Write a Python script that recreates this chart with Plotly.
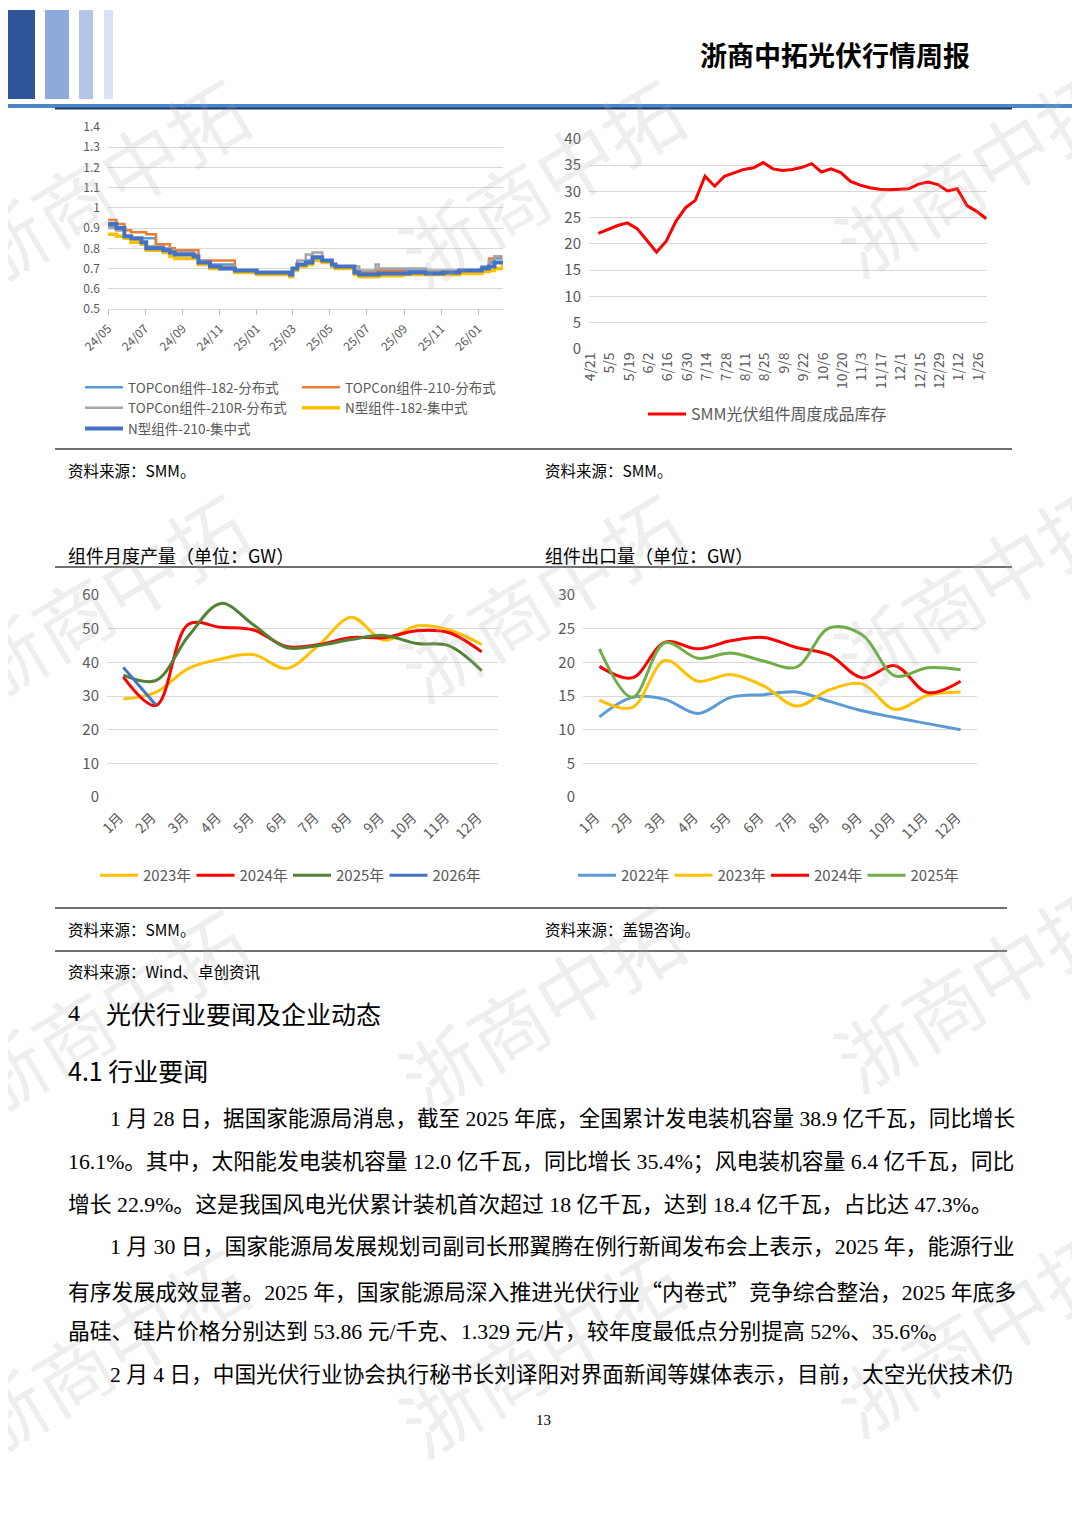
import plotly.graph_objects as go

# page is rendered with an 8px body margin: lay out in reference-pixel coordinates and compensate
OX, OY = 8, 8
FW, FH = 1072, 1519
def X(p): return (p - OX) / FW
def Y(p): return 1 - (p - OY) / FH

CJK = "Noto Sans CJK SC"
SERIF = "Liberation Serif, Noto Sans CJK SC"
GRAY = "#595959"
GRID = "#D9D9D9"

# ---------------- data ----------------
# Chart 1: module prices (yuan/W)
price_dates = ["2024-05-01","2024-05-15","2024-05-28","2024-06-08","2024-06-25","2024-07-03","2024-07-19",
               "2024-07-31","2024-08-11","2024-08-19","2024-09-19","2024-09-27","2024-10-10","2024-10-16",
               "2024-11-02","2024-11-18","2024-11-26","2024-12-26","2025-01-01","2025-02-19","2025-02-25",
               "2025-03-01","2025-03-09","2025-03-23","2025-04-03","2025-04-19","2025-05-05","2025-05-11",
               "2025-06-05","2025-06-11","2025-06-19","2025-07-16","2025-07-21","2025-08-30","2025-09-10",
               "2025-10-07","2025-11-04","2025-12-01","2025-12-29","2026-01-07","2026-01-19","2026-01-28",
               "2026-02-10"]
topcon_182_dist = [0.91,0.89,0.86,0.85,0.85,0.85,0.82,0.80,0.79,0.78,0.77,0.74,0.72,0.72,0.72,0.72,0.69,0.69,
                   0.68,0.68,0.67,0.70,0.72,0.74,0.76,0.74,0.72,0.71,0.71,0.69,0.68,0.69,0.69,0.69,0.69,0.685,
                   0.685,0.69,0.69,0.71,0.73,0.75,0.75]
topcon_210_dist = [0.94,0.92,0.89,0.88,0.88,0.87,0.82,0.82,0.80,0.79,0.79,0.74,0.74,0.74,0.74,0.74,0.69,0.69,
                   0.68,0.68,0.67,0.70,0.72,0.73,0.75,0.74,0.72,0.71,0.71,0.69,0.68,0.68,0.69,0.68,0.68,0.68,
                   0.68,0.69,0.69,0.70,0.75,0.76,0.76]
topcon_210r_dist = [0.90,0.89,0.86,0.84,0.83,0.81,0.81,0.80,0.79,0.78,0.77,0.74,0.73,0.71,0.71,0.71,0.69,0.68,
                    0.67,0.67,0.66,0.70,0.74,0.77,0.78,0.74,0.71,0.70,0.70,0.71,0.69,0.72,0.70,0.70,0.70,0.69,
                    0.69,0.69,0.69,0.70,0.74,0.76,0.76]
n_182_central = [0.87,0.86,0.85,0.83,0.82,0.79,0.79,0.78,0.76,0.75,0.75,0.72,0.72,0.70,0.70,0.70,0.68,0.68,
                 0.67,0.67,0.66,0.69,0.71,0.72,0.74,0.73,0.71,0.70,0.70,0.67,0.66,0.66,0.665,0.67,0.67,0.67,
                 0.67,0.675,0.675,0.685,0.69,0.70,0.72]
n_210_central = [0.92,0.90,0.86,0.85,0.83,0.80,0.80,0.79,0.78,0.77,0.76,0.73,0.73,0.71,0.70,0.70,0.69,0.69,
                 0.68,0.68,0.67,0.70,0.72,0.73,0.755,0.74,0.72,0.71,0.71,0.68,0.67,0.67,0.675,0.675,0.68,0.675,
                 0.68,0.69,0.69,0.70,0.71,0.73,0.74]
price_yticks = [0.5,0.6,0.7,0.8,0.9,1.0,1.1,1.2,1.3,1.4]
price_yticktext = ["0.5","0.6","0.7","0.8","0.9","1","1.1","1.2","1.3","1.4"]

# Chart 2: SMM weekly finished-module inventory
inv_weeks = ["4/21","4/28","5/5","5/12","5/19","5/26","6/2","6/9","6/16","6/23","6/30","7/7","7/14","7/21",
             "7/28","8/4","8/11","8/18","8/25","9/1","9/8","9/15","9/22","9/29","10/6","10/13","10/20",
             "10/27","11/3","11/10","11/17","11/24","12/1","12/8","12/15","12/22","12/29","1/5","1/12",
             "1/19","1/26"]
inv_values = [22.0,22.8,23.5,24.0,22.9,20.7,18.4,20.5,24.3,26.9,28.3,32.9,31.0,32.9,33.6,34.2,34.5,35.5,
              34.3,34.0,34.2,34.6,35.3,33.7,34.3,33.6,31.9,31.2,30.7,30.4,30.3,30.4,30.5,31.4,31.8,31.3,
              30.1,30.5,27.3,26.2,24.8]
inv_labels = inv_weeks[::2]

# Chart 3: monthly module output (GW)
months = ["1月","2月","3月","4月","5月","6月","7月","8月","9月","10月","11月","12月"]
out_2023 = [29.1,31.1,38.2,41.0,42.3,38.2,45.1,53.4,46.6,50.8,49.6,45.3]
out_2024 = [35.7,27.2,51.3,50.4,49.6,44.7,45.3,47.4,47.3,49.4,48.8,43.1]
out_2025 = [36.2,34.6,47.8,57.5,51.1,44.4,45.0,46.8,48.0,45.6,44.9,37.5]
out_2026 = [38.5,27.3]

# Chart 4: module exports (GW)
exp_2022 = [11.9,14.8,14.5,12.4,14.8,15.2,15.6,14.2,12.8,11.8,10.9,10.0]
exp_2023 = [14.4,13.3,20.3,17.2,18.2,16.5,13.5,15.9,16.8,13.0,15.1,15.6]
exp_2024 = [19.4,17.7,23.0,22.0,23.2,23.7,22.2,21.1,17.7,19.5,15.5,17.2]
exp_2025 = [22.0,14.8,22.9,20.6,21.4,20.2,19.3,25.1,24.1,18.0,19.2,18.9]

# ---------------- figure ----------------
fig = go.Figure()

c1 = [("TOPCon组件-182-分布式", topcon_182_dist, "#5B9BD5", 2.5, "legend"),
      ("TOPCon组件-210-分布式", topcon_210_dist, "#ED7D31", 2.5, "legend2"),
      ("TOPCon组件-210R-分布式", topcon_210r_dist, "#A5A5A5", 2.5, "legend"),
      ("N型组件-182-集中式", n_182_central, "#FFC000", 3.5, "legend2"),
      ("N型组件-210-集中式", n_210_central, "#4472C4", 4, "legend")]
for name, vals, col, w, leg in c1:
    fig.add_trace(go.Scatter(x=price_dates, y=vals, mode="lines", name=name,
                             line=dict(color=col, width=w, shape="hv"),
                             xaxis="x", yaxis="y", legend=leg))

fig.add_trace(go.Scatter(x=inv_weeks, y=inv_values, mode="lines", name="SMM光伏组件周度成品库存",
                         line=dict(color="#FF0000", width=3), xaxis="x2", yaxis="y2", legend="legend3"))

for name, vals, col in [("2023年", out_2023, "#FFC000"), ("2024年", out_2024, "#FF0000"),
                        ("2025年", out_2025, "#548235"), ("2026年", out_2026, "#4472C4")]:
    fig.add_trace(go.Scatter(x=months[:len(vals)], y=vals, mode="lines", name=name,
                             line=dict(color=col, width=3, shape="spline", smoothing=1),
                             xaxis="x3", yaxis="y3", legend="legend4"))

for name, vals, col in [("2022年", exp_2022, "#5B9BD5"), ("2023年", exp_2023, "#FFC000"),
                        ("2024年", exp_2024, "#FF0000"), ("2025年", exp_2025, "#70AD47")]:
    fig.add_trace(go.Scatter(x=months, y=vals, mode="lines", name=name,
                             line=dict(color=col, width=3, shape="spline", smoothing=1),
                             xaxis="x4", yaxis="y4", legend="legend5"))

def yax(dom, rng, dt, size, **kw):
    d = dict(domain=dom, range=rng, dtick=dt, showgrid=True, gridcolor=GRID, gridwidth=1,
             zeroline=False, showline=False, ticks="", fixedrange=True, automargin=False,
             tickfont=dict(family=CJK, size=size, color=GRAY), ticklabelstandoff=7)
    d.update(kw)
    return d

def xcat(dom, anchor):
    return dict(domain=dom, type="category", range=[-0.5, 11.5], tickangle=-45,
                showgrid=False, showline=False, ticks="", automargin=False, ticklabelstandoff=9,
                ticklabelshift=-4,
                tickfont=dict(family=CJK, size=14, color=GRAY), anchor=anchor, fixedrange=True)

fig.update_layout(
    width=FW, height=FH, margin=dict(l=0, r=0, t=0, b=0, autoexpand=False),
    paper_bgcolor="white", plot_bgcolor="rgba(0,0,0,0)", hovermode=False,
    xaxis=dict(domain=[X(108), X(503)], type="date", range=["2024-05-01", "2026-02-11"],
               tick0="2024-05-01", dtick="M2", tickformat="%y/%m", tickangle=-45,
               showgrid=False, showline=True, linecolor=GRID, ticks="outside", ticklen=5,
               tickcolor="#BFBFBF", tickfont=dict(family=CJK, size=12, color=GRAY), ticklabelstandoff=2,
               anchor="y", fixedrange=True, automargin=False),
    yaxis=yax([Y(309), Y(127)], [0.5, 1.4], 0.1, 12, tickvals=price_yticks,
              ticktext=price_yticktext, anchor="x"),
    xaxis2=dict(domain=[X(589), X(987)], type="category", range=[-0.96, 40.07],
                tickvals=inv_labels, ticktext=inv_labels, tickangle=-90, ticklabelshift=-8,
                showgrid=False, showline=False, ticks="", automargin=False,
                tickfont=dict(family=CJK, size=14, color=GRAY), anchor="y2", fixedrange=True),
    yaxis2=yax([Y(348.7), Y(139)], [0, 40], 5, 15, anchor="x2"),
    xaxis3=xcat([X(107), X(498)], "y3"),
    yaxis3=yax([Y(797), Y(595)], [0, 60], 10, 15, anchor="x3"),
    xaxis4=xcat([X(583), X(977)], "y4"),
    yaxis4=yax([Y(797), Y(595)], [0, 30], 5, 15, anchor="x4"),
)

leg_common = dict(bgcolor="rgba(0,0,0,0)", borderwidth=0, xanchor="left", yanchor="top", itemwidth=38)
fig.update_layout(
    legend=dict(x=X(80), y=Y(372), font=dict(family=CJK, size=13.5, color=GRAY), **leg_common),
    legend2=dict(x=X(297), y=Y(372), font=dict(family=CJK, size=13.5, color=GRAY), **leg_common),
    legend3=dict(x=X(643), y=Y(397), font=dict(family=CJK, size=16, color=GRAY), **leg_common),
    legend4=dict(x=X(95), y=Y(859), orientation="h", entrywidth=43.5,
                 font=dict(family=CJK, size=15, color=GRAY), **leg_common),
    legend5=dict(x=X(573), y=Y(859), orientation="h", entrywidth=43.5,
                 font=dict(family=CJK, size=15, color=GRAY), **leg_common),
)

shapes = []
# header bars
for x0, x1, col in [(3, 35, "#2E5597"), (45, 69, "#8EA9DB"), (79, 93, "#B4C6E7"), (104, 113, "#DAE3F3")]:
    shapes.append(dict(type="rect", xref="paper", yref="paper", x0=X(x0), x1=X(x1), y0=Y(99), y1=Y(10),
                       fillcolor=col, line=dict(width=0)))
shapes.append(dict(type="line", xref="paper", yref="paper", x0=X(0), x1=X(1080), y0=Y(106), y1=Y(106),
                   line=dict(color="#4A86C8", width=4)))
shapes.append(dict(type="line", xref="paper", yref="paper", x0=X(55), x1=X(1012), y0=Y(108.5), y1=Y(108.5),
                   line=dict(color="#1F3864", width=2)))
for yy, xa, xb in [(449, 55, 1012), (567, 55, 1012), (908, 55, 1007), (951, 55, 1007)]:
    shapes.append(dict(type="line", xref="paper", yref="paper", x0=X(xa), x1=X(xb), y0=Y(yy), y1=Y(yy),
                       line=dict(color="#404040", width=1.3)))
fig.update_layout(shapes=shapes)

ann = []
def txt(x, y, s, size, family=CJK, color="#000000", xanchor="left", bold=False, **kw):
    if bold:
        s = "<b>" + s + "</b>"
    d = dict(x=X(x), y=Y(y), xref="paper", yref="paper", text=s, showarrow=False,
             xanchor=xanchor, yanchor="middle", font=dict(family=family, size=size, color=color))
    d.update(kw)
    ann.append(d)

# watermarks
for cx, cy in [(105, 180), (540, 180), (975, 170), (105, 595), (540, 595), (975, 585),
               (105, 1010), (540, 1005), (975, 985), (105, 1350), (540, 1350), (975, 1330)]:
    txt(cx, cy, "浙商中拓", 78, color="rgba(170,170,170,0.20)", xanchor="center", textangle=-31)

txt(835, 55, "浙商中拓光伏行情周报", 27, xanchor="center", bold=True)
txt(66, 470, "资料来源：SMM。", 15.5)
txt(543, 470, "资料来源：SMM。", 15.5)
txt(66, 555, "组件月度产量（单位：GW）", 18)
txt(543, 555, "组件出口量（单位：GW）", 18)
txt(66, 929, "资料来源：SMM。", 15.5)
txt(543, 929, "资料来源：盖锡咨询。", 15.5)
txt(66, 971, "资料来源：Wind、卓创资讯", 15.5)
txt(66, 1013, "4", 24, family=SERIF)
txt(104, 1013, "光伏行业要闻及企业动态", 25)
txt(66, 1070, "4.1 行业要闻", 25)

Q = '<span style="font-family:Noto Sans CJK SC">'
body = [
    (108, 1119, 21.55, "1 月 28 日，据国家能源局消息，截至 2025 年底，全国累计发电装机容量 38.9 亿千瓦，同比增长"),
    (66, 1162, 21.8, "16.1%。其中，太阳能发电装机容量 12.0 亿千瓦，同比增长 35.4%；风电装机容量 6.4 亿千瓦，同比"),
    (66, 1205, 21.8, "增长 22.9%。这是我国风电光伏累计装机首次超过 18 亿千瓦，达到 18.4 亿千瓦，占比达 47.3%。"),
    (108, 1247, 21.8, "1 月 30 日，国家能源局发展规划司副司长邢翼腾在例行新闻发布会上表示，2025 年，能源行业"),
    (66, 1290, 21.8, "有序发展成效显著。2025 年，国家能源局深入推进光伏行业" + Q + "“</span>内卷式" + Q
     + "”</span>竞争综合整治，2025 年底多"),
    (66, 1332, 21.8, "晶硅、硅片价格分别达到 53.86 元/千克、1.329 元/片，较年度最低点分别提高 52%、35.6%。"),
    (108, 1375, 21.65, "2 月 4 日，中国光伏行业协会执行秘书长刘译阳对界面新闻等媒体表示，目前，太空光伏技术仍"),
]
for bx, by, fs, s in body:
    txt(bx, by, s, fs, family=SERIF)
txt(543, 1420, "13", 15, family=SERIF, xanchor="center")

fig.update_layout(annotations=ann)
fig.write_html("out.html")
